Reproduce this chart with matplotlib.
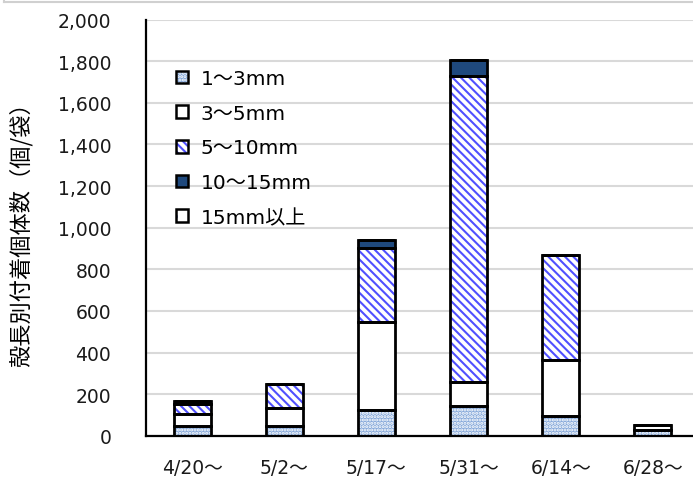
import numpy as np
import matplotlib
matplotlib.use("Agg")
import matplotlib.pyplot as plt
from matplotlib.lines import Line2D
from matplotlib.patches import Patch
from matplotlib.legend_handler import HandlerTuple

plt.rcParams['font.family'] = ['DejaVu Sans', 'Noto Sans CJK JP']
plt.rcParams['hatch.linewidth'] = 1.5

# shell-length classes per sampling period (individuals / bag)
dates = ['4/20～', '5/2～', '5/17～', '5/31～', '6/14～', '6/28～']
size_labels = ['1～3mm', '3～5mm', '5～10mm', '10～15mm', '15mm以上']
mm_1_3 = [48, 48, 125, 144, 93, 28]
mm_3_5 = [56, 84, 420, 116, 269, 23]
mm_5_10 = [50, 116, 356, 1468, 507, 0]
mm_10_15 = [14, 0, 41, 80, 0, 0]
mm_15_up = [0, 0, 0, 0, 0, 0]
series = [mm_1_3, mm_3_5, mm_5_10, mm_10_15, mm_15_up]

# fill colour, hatch pattern, hatch colour for each class
styles = [
    ('#86a9da', '.....', 'white'),
    ('white', '', 'white'),
    ('white', '\\\\\\\\', '#5050ff'),
    ('#1f497d', '', '#1f497d'),
    ('white', '.', '#3a5fd0'),
]

fig = plt.figure(figsize=(6.93, 4.81), dpi=100)
ax = fig.add_axes([146 / 693, 1 - 436.7 / 481, 553 / 693, (436.7 - 20.7) / 481])

x = np.arange(len(dates))
width = 0.40
bottom = np.zeros(len(dates))
for vals, (fc, hatch, hc) in zip(series, styles):
    vals = np.array(vals, dtype=float)
    ax.bar(x, vals, width, bottom=bottom, color=fc, hatch=hatch,
           edgecolor=hc, linewidth=0, zorder=2)
    ax.bar(x, vals, width, bottom=bottom, fill=False,
           edgecolor='black', linewidth=2, zorder=3)
    bottom += vals

ax.set_xlim(-0.5, 5.5)
ax.set_ylim(0, 2000)
ax.set_yticks(np.arange(0, 2001, 200))
ax.set_yticklabels([f'{v:,}' for v in range(0, 2001, 200)], fontsize=13.5, color='#1a1a1a')
ax.set_xticks(x)
ax.set_xticklabels(dates, fontsize=13.5, color='#1a1a1a')
ax.tick_params(axis='y', length=0, pad=25)
ax.tick_params(axis='x', length=0, pad=16)
ax.grid(axis='y', color='#d9d9d9', linewidth=1.5, zorder=0)
ax.set_axisbelow(True)
for s in ['top', 'right']:
    ax.spines[s].set_visible(False)
ax.spines['left'].set_linewidth(1.6)
ax.spines['bottom'].set_linewidth(1.6)
ax.set_ylabel('殻長別付着個体数（個/袋）', fontsize=16, family='Noto Sans CJK JP')
ax.yaxis.set_label_coords(-0.205, 0.5)

# legend keys: hatched fill with a black outline laid over it
handles = [(Patch(facecolor=fc, hatch=h, edgecolor=hc, linewidth=0),
            Patch(fill=False, edgecolor='black', linewidth=1.8))
           for fc, h, hc in styles]
ax.legend(handles, size_labels, loc='upper left', bbox_to_anchor=(0.022, 0.925),
          frameon=False, fontsize=14.5, handlelength=0.6, handleheight=0.6,
          handletextpad=0.6, labelspacing=0.78,
          handler_map={tuple: HandlerTuple(ndivide=1)})

# frame corner of the surrounding chart area
fig.add_artist(Line2D([4 / 693, 1], [1 - 3 / 481, 1 - 3 / 481],
                      transform=fig.transFigure, color='#d0d0d0', linewidth=1.5))
fig.add_artist(Line2D([4 / 693, 4 / 693], [1, 1 - 3 / 481],
                      transform=fig.transFigure, color='#d0d0d0', linewidth=1.5))

fig.savefig('out.png', dpi=100)
